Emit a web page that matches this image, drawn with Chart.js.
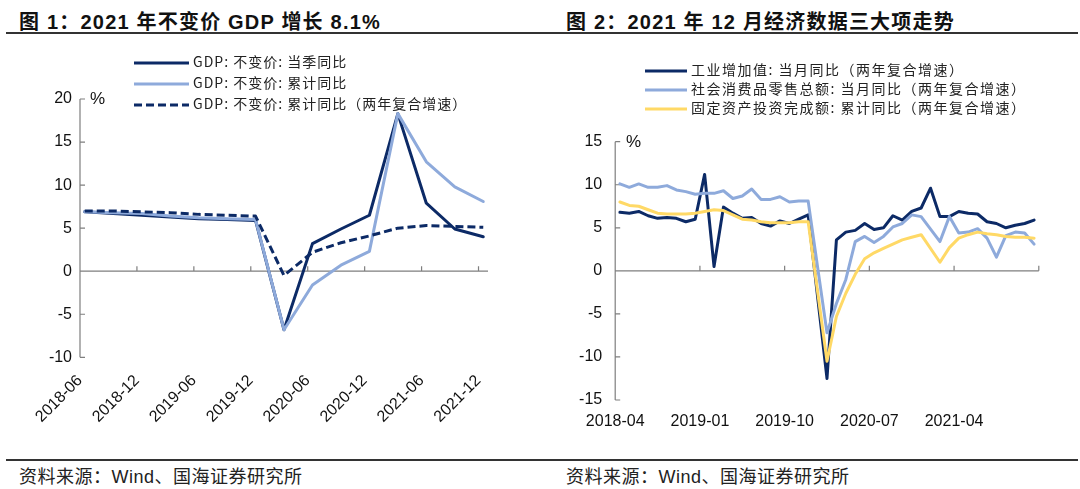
<!DOCTYPE html>
<html>
<head>
<meta charset="utf-8">
<script src="https://cdn.jsdelivr.net/npm/chart.js@4.4.0/dist/chart.umd.min.js"></script>
<style>
  html,body{margin:0;padding:0;width:1080px;height:489px;background:#fff;overflow:hidden;}
  .title{position:absolute;top:6px;font-family:"Liberation Sans","Noto Sans CJK SC",sans-serif;font-weight:bold;font-size:20px;letter-spacing:1.2px;color:#111;white-space:nowrap;}
  .rule{position:absolute;height:2px;background:#333;}
  .src{position:absolute;top:462px;font-family:"Liberation Sans","Noto Sans CJK SC",sans-serif;font-size:18px;letter-spacing:0.5px;color:#222;white-space:nowrap;}
  .box{position:absolute;top:0;}
  .leg{position:absolute;font-family:"Noto Sans CJK SC",sans-serif;font-size:14px;color:#222;white-space:nowrap;line-height:18px;}
  .leg svg{vertical-align:middle;margin-right:4px;}
  .pct{position:absolute;font-family:"Liberation Sans",sans-serif;font-size:17px;color:#111;}
</style>
</head>
<body>
  <div class="title" style="left:19px">图 1：2021 年不变价 GDP 增长 8.1%</div>
  <div class="title" style="left:566px">图 2：2021 年 12 月经济数据三大项走势</div>
  <div class="rule" style="left:6px;width:534px;top:32px"></div>
  <div class="rule" style="left:540px;width:538px;top:32px"></div>

  <canvas id="c1" class="box" style="left:0" width="540" height="455"></canvas>
  <canvas id="c2" class="box" style="left:540px" width="540" height="455"></canvas>

  <div class="pct" style="left:90px;top:89px">%</div>
  <div class="pct" style="left:626px;top:132px">%</div>

  <div id="leg1"></div>
  <div id="leg2"></div>

  <div class="rule" style="left:6px;width:534px;top:459px"></div>
  <div class="rule" style="left:540px;width:538px;top:459px"></div>
  <div class="src" style="left:19px">资料来源：Wind、国海证券研究所</div>
  <div class="src" style="left:566px">资料来源：Wind、国海证券研究所</div>

<script>
// ---------- 图1 数据（季度） ----------
const quarters1 = ['2018-06','2018-09','2018-12','2019-03','2019-06','2019-09','2019-12',
  '2020-03','2020-06','2020-09','2020-12','2021-03','2021-06','2021-09','2021-12']
const gdpQuarter = [6.9, 6.7, 6.5, 6.3, 6.1, 6.0, 5.9, -6.8, 3.2, 4.9, 6.5, 18.3, 7.9, 4.9, 4.0]
const gdpCum = [6.9, 6.8, 6.7, 6.4, 6.2, 6.1, 6.0, -6.8, -1.6, 0.7, 2.3, 18.3, 12.7, 9.8, 8.1]
const gdpCum2y = [7.0, 7.0, 6.9, 6.8, 6.6, 6.5, 6.4, -0.5, 2.2, 3.3, 4.1, 5.0, 5.3, 5.2, 5.1]
const xTicks1 = ['2018-06','2018-12','2019-06','2019-12','2020-06','2020-12','2021-06','2021-12']
const names1 = ['GDP: 不变价: 当季同比', 'GDP: 不变价: 累计同比', 'GDP: 不变价: 累计同比（两年复合增速）']

// ---------- 图2 数据（月度 2018-04 ~ 2021-12） ----------
const industry = [6.8, 6.7, 6.9, 6.4, 6.1, 6.2, 6.1, 5.7, 6.0, 11.2, 0.5, 7.4, 6.7, 6.1, 6.2, 5.5, 5.2, 5.8, 5.5, 6.0,
  6.5, null, -12.5, 3.6, 4.5, 4.7, 5.5, 4.8, 5.0, 6.4, 5.9, 6.9, 7.3, 9.6, 6.3, 6.3, 6.9, 6.7, 6.6, 5.7,
  5.5, 5.0, 5.3, 5.5, 5.9]
const retail = [10.1, 9.7, 10.1, 9.7, 9.7, 9.9, 9.4, 9.2, 8.9, 9.0, 9.0, 9.3, 8.4, 8.7, 9.5, 8.3, 8.3, 8.6, 8.0, 8.1,
  8.1, null, -7.2, -3.8, -1.0, 3.4, 4.0, 3.3, 4.0, 5.1, 5.5, 6.5, 6.3, null, 3.4, 6.3, 4.4, 4.5, 4.9, 3.8,
  1.6, 4.1, 4.5, 4.4, 3.1]
const fai = [8.0, 7.6, 7.5, 7.1, 6.7, 6.6, 6.6, 6.6, 6.7, 6.9, 7.1, 7.0, 6.5, 6.0, 5.9, 5.7, 5.6, 5.6, 5.6, 5.7,
  5.7, null, -10.5, -5.3, -2.6, -0.4, 1.4, 2.1, 2.6, 3.1, 3.6, 3.9, 4.2, null, 1.0, 2.7, 3.8, 4.2, 4.5, 4.3,
  4.2, 4.0, 3.9, 3.9, 3.8]
const xTicks2 = ['2018-04','2019-01','2019-10','2020-07','2021-04','']
const names2 = ['工业增加值: 当月同比（两年复合增速）', '社会消费品零售总额: 当月同比（两年复合增速）', '固定资产投资完成额: 累计同比（两年复合增速）']

const NAVY = '#0c2a66', LIGHT = '#8eaadb', GOLD = '#ffd966', AXIS = '#7f7f7f'

function monthIndex(label, base){
  const [y, m] = label.split('-').map(Number)
  const [by, bm] = base.split('-').map(Number)
  return (y - by) * 12 + (m - bm)
}
// 月度标签
const months2 = []
for (let y = 2018, m = 4; y < 2022; m++){
  if (m > 12){ m = 1; y++ }
  if (y === 2022) break
  months2.push(y + '-' + String(m).padStart(2, '0'))
}

function pts(labels, vals, base){
  return labels.map((l, i) => ({x: monthIndex(l, base) + 0.5, y: vals[i]}))
}

// 坐标轴、零线、刻度线
const axisDecor = {
  id: 'axisDecor',
  beforeDatasetsDraw(chart){
    const {ctx, chartArea: a, scales: {x, y}} = chart
    const y0 = y.getPixelForValue(0)
    ctx.save()
    ctx.strokeStyle = AXIS
    ctx.lineWidth = 1.2
    ctx.beginPath()
    ctx.moveTo(a.left, a.top); ctx.lineTo(a.left, a.bottom)
    ctx.moveTo(a.left, y0); ctx.lineTo(a.right, y0)
    y.ticks.forEach(t => {
      const py = y.getPixelForValue(t.value)
      ctx.moveTo(a.left, py); ctx.lineTo(a.left + 5, py)
    })
    x.ticks.forEach(t => {
      const px = x.getPixelForValue(t.value)
      ctx.moveTo(px, y0); ctx.lineTo(px, y0 - 5)
    })
    ctx.stroke()
    ctx.restore()
  }
}

const tickFont = {family: 'Liberation Sans', size: 16}

function line(label, data, color, order, dash){
  return {label, data, borderColor: color, backgroundColor: color, borderWidth: 3,
    borderDash: dash || [], pointRadius: 0, tension: 0, order,
    borderJoinStyle: 'round', borderCapStyle: dash ? 'butt' : 'round', spanGaps: true}
}

new Chart(document.getElementById('c1'), {
  type: 'line',
  data: {datasets: [
    line(names1[0], pts(quarters1, gdpQuarter, '2018-06'), NAVY, 2),
    line(names1[1], pts(quarters1, gdpCum, '2018-06'), LIGHT, 1),
    line(names1[2], pts(quarters1, gdpCum2y, '2018-06'), NAVY, 0, [8, 4])
  ]},
  options: {
    responsive: false, animation: false,
    layout: {padding: {top: 99, right: 52, left: 0, bottom: 0}},
    plugins: {legend: {display: false}, tooltip: {enabled: false}},
    scales: {
      x: {type: 'linear', min: 0, max: 43,
        border: {display: false}, grid: {display: false, drawTicks: false},
        afterBuildTicks: s => { s.ticks = xTicks1.map((_, i) => ({value: i * 6})) },
        ticks: {autoSkip: false, minRotation: 45, maxRotation: 45, padding: 14, color: '#111', font: tickFont,
          callback: v => xTicks1[v / 6]},
        afterFit: s => { s.height = 455 - 357.3 }
      },
      y: {min: -10, max: 20,
        border: {display: false}, grid: {display: false, drawTicks: false},
        ticks: {stepSize: 5, padding: 8, color: '#111', font: tickFont},
        afterFit: s => { s.width = 80 }
      }
    }
  },
  plugins: [axisDecor]
})

new Chart(document.getElementById('c2'), {
  type: 'line',
  data: {datasets: [
    line(names2[0], pts(months2, industry, '2018-04'), NAVY, 2),
    line(names2[1], pts(months2, retail, '2018-04'), LIGHT, 1),
    line(names2[2], pts(months2, fai, '2018-04'), GOLD, 0)
  ]},
  options: {
    responsive: false, animation: false,
    layout: {padding: {top: 141.7, right: 41.2, left: 0, bottom: 0}},
    plugins: {legend: {display: false}, tooltip: {enabled: false}},
    scales: {
      x: {type: 'linear', min: 0, max: 45,
        border: {display: false}, grid: {display: false, drawTicks: false},
        afterBuildTicks: s => { s.ticks = xTicks2.map((_, i) => ({value: i * 9})) },
        ticks: {autoSkip: false, minRotation: 0, maxRotation: 0, padding: 12, color: '#111', font: tickFont,
          callback: v => xTicks2[v / 9]},
        afterFit: s => { s.height = 455 - 400 }
      },
      y: {min: -15, max: 15,
        border: {display: false}, grid: {display: false, drawTicks: false},
        ticks: {stepSize: 5, padding: 13, color: '#111', font: tickFont},
        afterFit: s => { s.width = 75.2 }
      }
    }
  },
  plugins: [axisDecor]
})

// 图例
function legend(el, names, colors, dashes, left, tops, w, spacing){
  names.forEach((n, i) => {
    const row = document.createElement('div')
    row.className = 'leg'
    row.style.left = left + 'px'
    row.style.top = (tops[i] - 9) + 'px'
    row.style.letterSpacing = spacing + 'px'
    const da = dashes[i] ? ` stroke-dasharray="${dashes[i]}"` : ''
    row.innerHTML = `<svg width="${w}" height="6"><line x1="0" y1="3" x2="${w}" y2="3" stroke="${colors[i]}" stroke-width="3"${da}/></svg>${n}`
    el.appendChild(row)
  })
}
legend(document.getElementById('leg1'), names1, [NAVY, LIGHT, NAVY], [null, null, '8 4'], 134, [61, 82, 103], 55, 1)
legend(document.getElementById('leg2'), names2, [NAVY, LIGHT, GOLD], [null, null, null], 645, [69, 88, 107], 42, 1.5)
</script>
</body>
</html>
